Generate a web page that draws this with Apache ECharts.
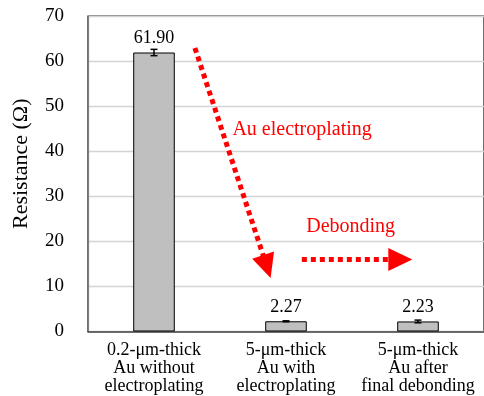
<!DOCTYPE html>
<html>
<head>
<meta charset="utf-8">
<script src="https://cdn.jsdelivr.net/npm/echarts@6/dist/echarts.min.js"></script>
<style>
html,body{margin:0;padding:0;background:#fff;}
#c{width:484px;height:396px;}
</style>
</head>
<body>
<div id="c"></div>
<script>
const categories = ['0.2-μm-thick\nAu without\nelectroplating', '5-μm-thick\nAu with\nelectroplating', '5-μm-thick\nAu after\nfinal debonding'];
const resistance = [61.90, 2.27, 2.23];
const resistanceErr = [0.7, 0.1, 0.3];
const yMin = 0, yMax = 70, yInterval = 10;
const yAxisName = 'Resistance (Ω)';
// annotation arrows in data space: [x (category position), y (Ω)]
const arrowElectroplating = [[0.31, 62.9], [0.855, 14.4]];
const arrowDebonding = [[1.12, 16.0], [1.866, 16.0]];
// annotation texts: left-aligned start position [x, y]
const noteElectroplating = {text: 'Au electroplating', pos: [0.594, 44.7]};
const noteDebonding = {text: 'Debonding', pos: [1.153, 23.2]};

const FONT = 'Liberation Serif';
const RED = '#FF0000';

const chart = echarts.init(document.getElementById('c'), null, {renderer: 'canvas'});

function arrowLine(pts) {
  return [{coord: pts[0], symbol: 'none'}, {coord: pts[1], symbol: 'triangle', symbolSize: [23, 24]}];
}

const option = {
  animation: false,
  backgroundColor: '#fff',
  grid: {left: 88, right: -2, top: 16, bottom: 64.5, containLabel: false,
    show: true, borderColor: '#111', borderWidth: 1.2, backgroundColor: 'transparent'},
  xAxis: [
    {
      type: 'category', data: categories, position: 'bottom',
      axisLine: {onZero: false, lineStyle: {color: '#404040', width: 1.5}},
      axisTick: {show: false},
      axisLabel: {fontFamily: FONT, fontSize: 18, color: '#000', lineHeight: 18, margin: 10, interval: 0}
    },
    {
      type: 'value', min: -0.5, max: 2.5, show: false,
      axisLine: {onZero: false}
    }
  ],
  yAxis: {
    type: 'value', min: yMin, max: yMax, interval: yInterval,
    name: yAxisName, nameLocation: 'middle', nameGap: 56,
    nameTextStyle: {fontFamily: FONT, fontSize: 22, color: '#000', padding: [0, 0, 0, 20]},
    axisLine: {show: true, onZero: false, lineStyle: {color: '#7f7f7f', width: 1.2}},
    axisTick: {show: false},
    axisLabel: {fontFamily: FONT, fontSize: 19, color: '#000', margin: 24},
    splitLine: {lineStyle: {color: '#d4d4d4', width: 1.3}}
  },
  series: [
    {
      type: 'bar', data: resistance, barWidth: '31.5%',
      itemStyle: {color: '#BFBFBF', borderColor: '#000', borderWidth: 1},
      label: {show: true, position: 'top', distance: 5, fontFamily: FONT, fontSize: 18, color: '#000',
        formatter: p => p.value.toFixed(2)},
      z: 2
    },
    {
      type: 'custom', z: 3,
      data: resistance.map((v, i) => [i, v, resistanceErr[i]]),
      renderItem: function (params, api) {
        const x = api.value(0), v = api.value(1), e = api.value(2);
        const top = api.coord([x, v + e]);
        const bot = api.coord([x, v - e]);
        const w = 3.5;
        const st = {stroke: '#000', lineWidth: 1.5};
        return {type: 'group', children: [
          {type: 'line', shape: {x1: top[0], y1: top[1], x2: bot[0], y2: bot[1]}, style: st},
          {type: 'line', shape: {x1: top[0] - w, y1: top[1], x2: top[0] + w, y2: top[1]}, style: st},
          {type: 'line', shape: {x1: bot[0] - w, y1: bot[1], x2: bot[0] + w, y2: bot[1]}, style: st}
        ]};
      }
    },
    {
      type: 'line', xAxisIndex: 1, data: [], z: 5,
      markLine: {
        silent: true, animation: false,
        lineStyle: {color: RED, width: 5, type: [5, 4], opacity: 1},
        itemStyle: {color: RED},
        label: {show: false},
        data: [arrowLine(arrowElectroplating), arrowLine(arrowDebonding)]
      },
      markPoint: {
        silent: true, symbolSize: 0,
        label: {show: true, fontFamily: FONT, fontSize: 20, color: RED, position: 'inside', align: 'left'},
        data: [
          {coord: noteElectroplating.pos, value: noteElectroplating.text, label: {formatter: noteElectroplating.text}},
          {coord: noteDebonding.pos, value: noteDebonding.text, label: {formatter: noteDebonding.text}}
        ]
      }
    }
  ]
};
chart.setOption(option);
</script>
</body>
</html>
